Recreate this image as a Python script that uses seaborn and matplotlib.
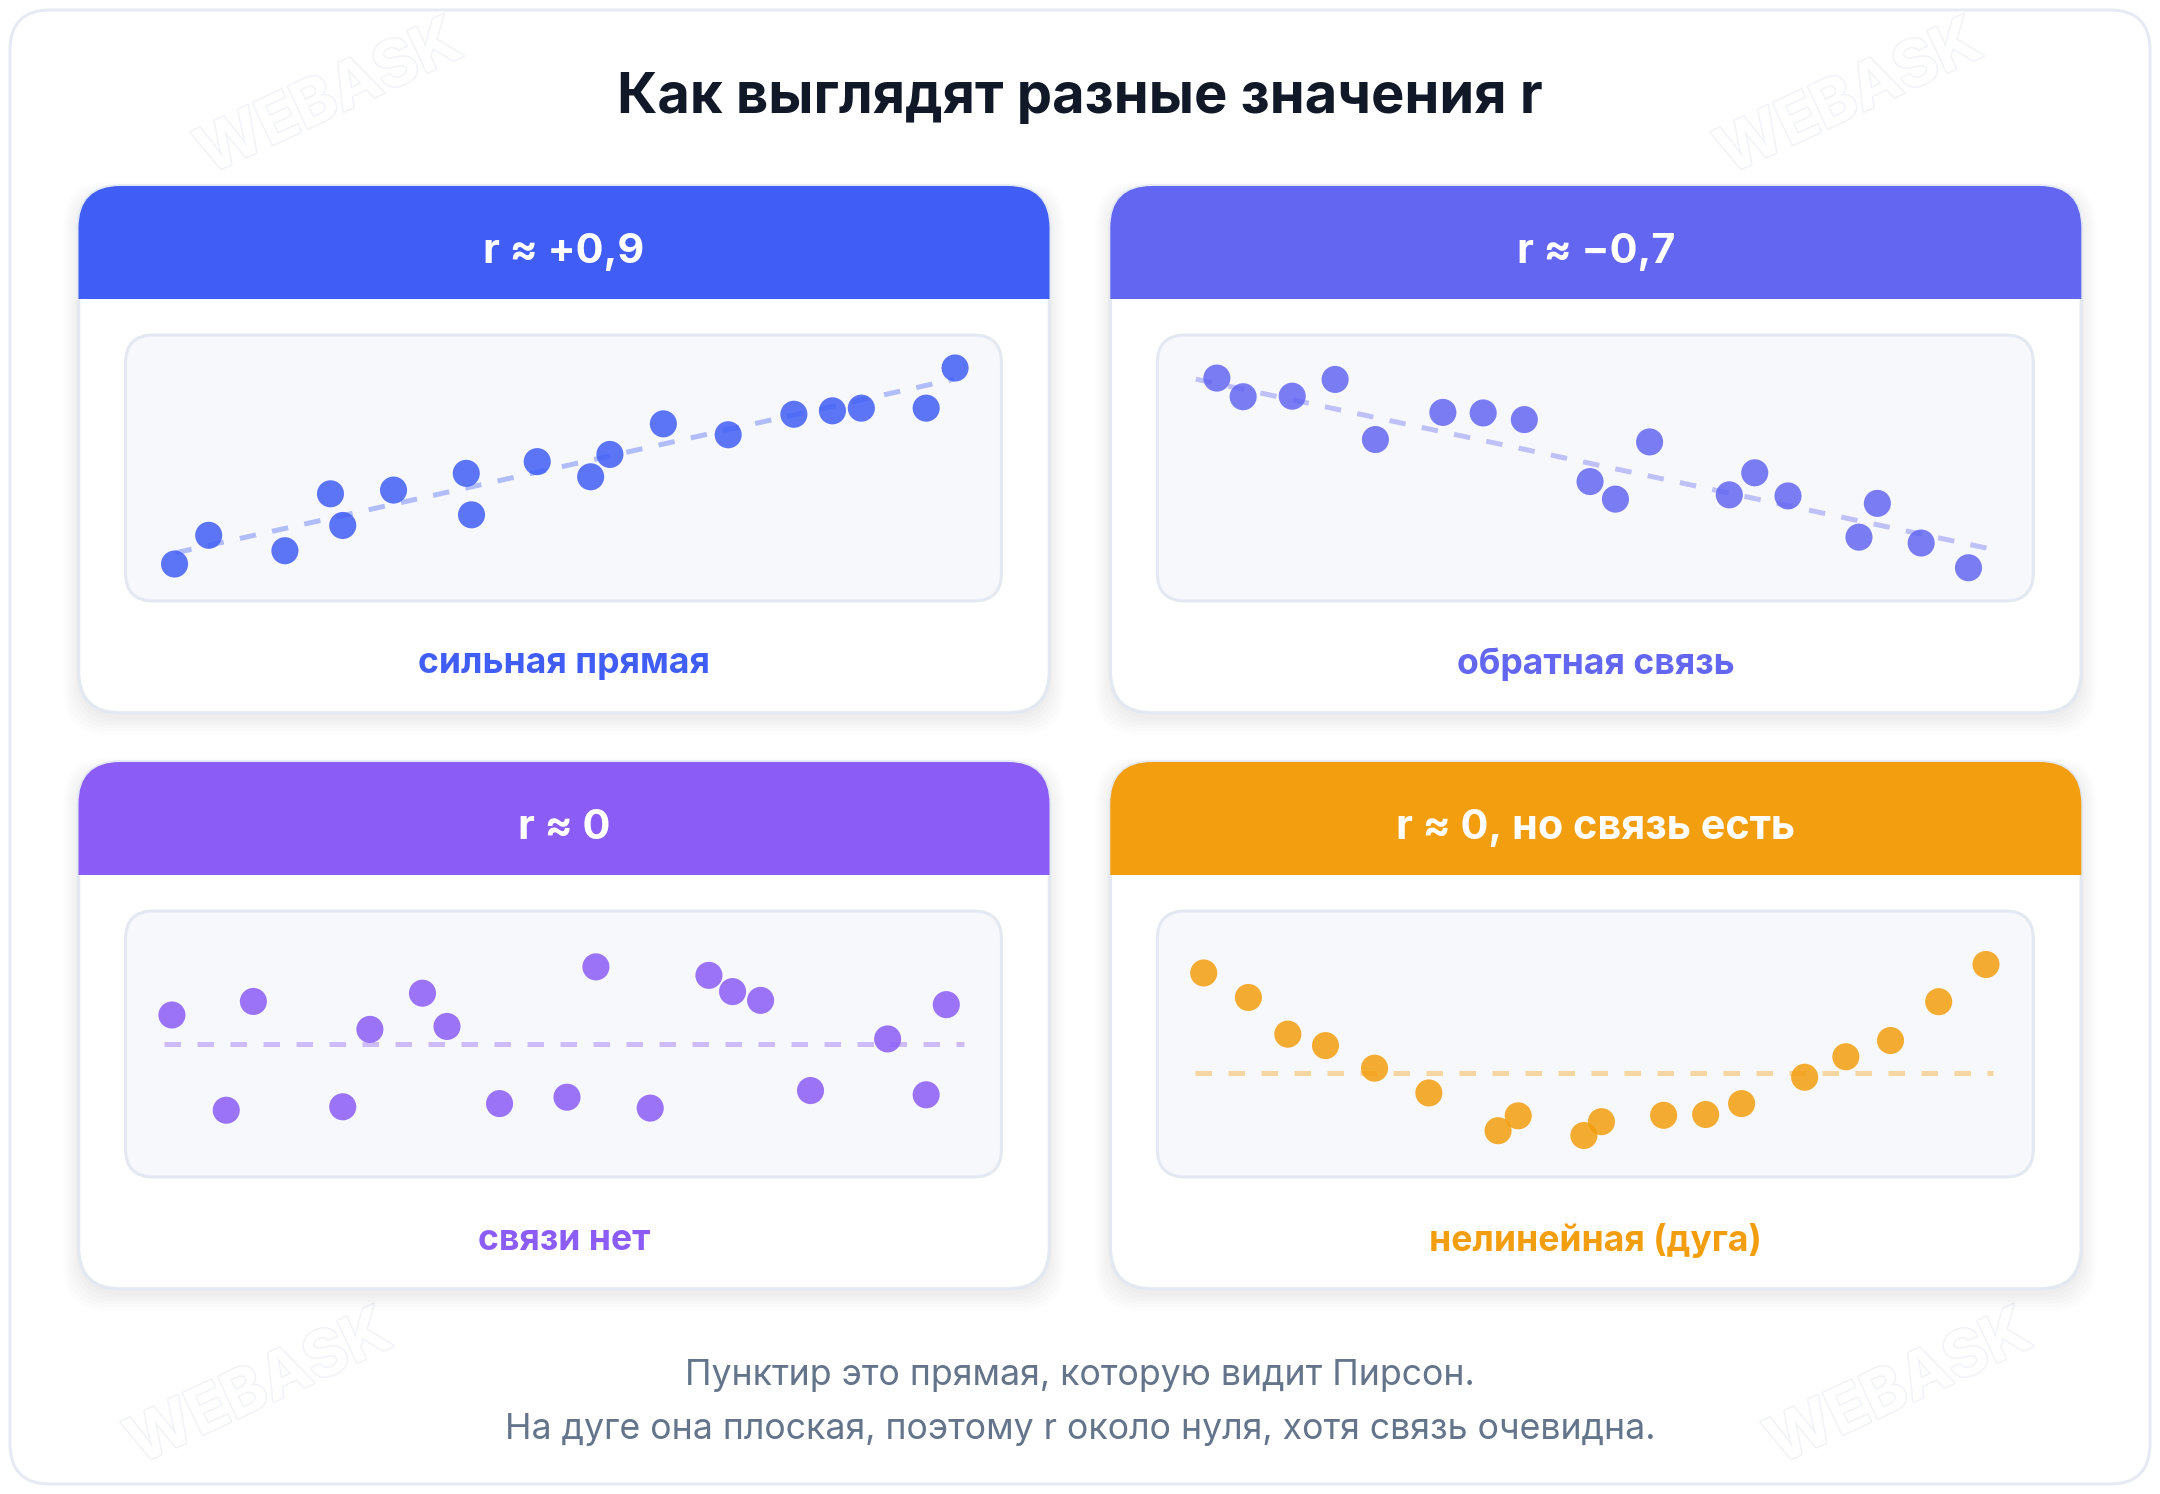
import numpy as np
import pandas as pd
import matplotlib
matplotlib.use("Agg")
import matplotlib.pyplot as plt
import matplotlib.patheffects as pe
from matplotlib.patches import FancyBboxPatch, Rectangle
import seaborn as sns

sns.set_theme(style="white")
plt.rcParams['font.family'] = ['Inter', 'DejaVu Sans']

W, H = 2160, 1494

title = "Как выглядят разные значения r"
headers = ["r ≈ +0,9", "r ≈ −0,7", "r ≈ 0", "r ≈ 0, но связь есть"]
captions = ["сильная прямая", "обратная связь", "связи нет", "нелинейная (дуга)"]
colors = ["#405EF6", "#6366F1", "#8B5CF6", "#F39E0F"]
footer = ["Пунктир это прямая, которую видит Пирсон.",
          "На дуге она плоская, поэтому r около нуля, хотя связь очевидна."]

# points, in percent of the inner plot box
pos_x = [5.6, 9.5, 18.2, 23.4, 24.8, 30.6, 38.9, 39.5, 47.0, 53.1, 55.3, 61.4, 68.8, 76.3, 80.7, 84.0, 91.4, 94.7]
pos_y = [13.9, 24.7, 18.9, 40.3, 28.4, 41.7, 48.0, 32.4, 52.4, 46.7, 55.1, 66.6, 62.5, 70.2, 71.5, 72.5, 72.5, 87.6]
neg_x = [6.8, 9.8, 15.4, 20.3, 24.9, 32.6, 37.2, 41.9, 49.4, 52.3, 56.2, 65.3, 68.2, 72.0, 80.1, 82.2, 87.2, 92.6]
neg_y = [83.8, 76.8, 77.0, 83.3, 60.7, 70.9, 70.7, 68.2, 44.9, 38.3, 59.8, 39.9, 48.2, 39.5, 24.0, 36.7, 21.8, 12.5]
zero_x = [5.3, 11.5, 14.6, 24.8, 27.9, 33.9, 36.7, 42.7, 50.4, 53.7, 59.9, 66.6, 69.3, 72.5, 78.2, 87.0, 91.4, 93.7]
zero_y = [60.9, 25.1, 66.0, 26.4, 55.5, 69.1, 56.6, 27.6, 30.0, 79.0, 25.9, 75.8, 69.7, 66.4, 32.5, 51.9, 30.9, 64.8]
arc_x = [5.3, 10.4, 14.9, 19.2, 24.8, 31.0, 38.9, 41.2, 48.7, 50.7, 57.8, 62.6, 66.7, 73.9, 78.6, 83.7, 89.2, 94.6]
arc_y = [76.7, 67.5, 53.7, 49.4, 40.9, 31.6, 17.4, 23.0, 15.6, 20.8, 23.2, 23.5, 27.6, 37.5, 45.2, 51.3, 65.9, 79.9]

# dashed "Pearson" lines: (x start, x end), (y start, y end)
fit_x = [(5.7, 94.6), (4.4, 94.8), (4.4, 95.7), (4.3, 95.4)]
fit_y = [(18.1, 83.4), (83.4, 19.8), (50.1, 50.1), (39.1, 39.1)]

points = [(pos_x, pos_y), (neg_x, neg_y), (zero_x, zero_y), (arc_x, arc_y)]

fig = plt.figure(figsize=(W / 100, H / 100), dpi=100)
bg = fig.add_axes([0, 0, 1, 1])
bg.set_xlim(0, W)
bg.set_ylim(H, 0)
bg.axis("off")

# outer card
bg.add_patch(FancyBboxPatch((10, 10), W - 20, H - 20, boxstyle="round,pad=0,rounding_size=40",
                            facecolor="white", edgecolor="#E6EBF3", linewidth=2.2, zorder=0))

# faint watermarks in the free margins
marks = [(330, 100), (1850, 100), (260, 1390), (1900, 1390)]
for mx, my in marks:
    bg.text(mx, my, "WEBASK", fontsize=46, fontweight="bold", color="white", rotation=25,
            ha="center", va="center", zorder=0.5,
            path_effects=[pe.withStroke(linewidth=2, foreground="#F0F2F8")])

card_x = [78.5, 1110.3, 78.5, 1110.3]
card_y = [186, 186, 762, 762]
card_w, card_h, head_h = 971, 527, 113

for i in range(4):
    cx, cy, col = card_x[i], card_y[i], colors[i]
    # soft shadow
    for k in range(6):
        bg.add_patch(FancyBboxPatch((cx - k * 3, cy + 6 - k * 2), card_w + k * 6, card_h + k * 5,
                                    boxstyle="round,pad=0,rounding_size=44",
                                    facecolor="#1E293B", edgecolor="none", alpha=0.012, zorder=1))
    bg.add_patch(FancyBboxPatch((cx, cy), card_w, card_h, boxstyle="round,pad=0,rounding_size=42",
                                facecolor="white", edgecolor="#E3E8F1", linewidth=2.5, zorder=2))
    head = FancyBboxPatch((cx, cy), card_w, card_h, boxstyle="round,pad=0,rounding_size=42",
                          facecolor=col, edgecolor="none", zorder=3)
    bg.add_patch(head)
    clip = Rectangle((cx - 5, cy - 5), card_w + 10, head_h + 5, transform=bg.transData)
    head.set_clip_path(clip)
    bg.text(cx + card_w / 2, cy + 66, headers[i], fontsize=29.8, fontweight="bold",
            color="white", ha="center", va="center", zorder=4)
    bg.text(cx + card_w / 2, cy + 478, captions[i], fontsize=25.6, fontweight="bold",
            color=col, ha="center", va="center", zorder=4)

    # inner plot box
    bx, by, bw, bh = cx + 47, cy + 149, 876, 266
    bg.add_patch(FancyBboxPatch((bx, by), bw, bh, boxstyle="round,pad=0,rounding_size=28",
                                facecolor="#F7F8FC", edgecolor="#E4E8F0", linewidth=2.2, zorder=3))

    ax = fig.add_axes([bx / W, 1 - (by + bh) / H, bw / W, bh / H])
    ax.set_xlim(0, 100)
    ax.set_ylim(0, 100)
    ax.axis("off")
    ax.patch.set_alpha(0)
    ax.plot(fit_x[i], fit_y[i], color=col, alpha=0.38, linewidth=3.6,
            dashes=(3.3, 3.3), solid_capstyle="butt", dash_capstyle="butt", zorder=1)
    df = pd.DataFrame({"x": points[i][0], "y": points[i][1]})
    sns.scatterplot(data=df, x="x", y="y", ax=ax, color=col, s=380, alpha=0.85,
                    edgecolor="none", linewidth=0, zorder=2, clip_on=False, legend=False)
    ax.set_xlabel("")
    ax.set_ylabel("")

bg.text(W / 2, 98, title, fontsize=40.4, fontweight="bold", color="#111827",
        ha="center", va="center", zorder=5)
bg.text(W / 2, 1375, footer[0], fontsize=25.7, color="#64748B", ha="center", va="center", zorder=5)
bg.text(W / 2, 1429, footer[1], fontsize=25.7, color="#64748B", ha="center", va="center", zorder=5)

fig.savefig("out.png", dpi=100)
